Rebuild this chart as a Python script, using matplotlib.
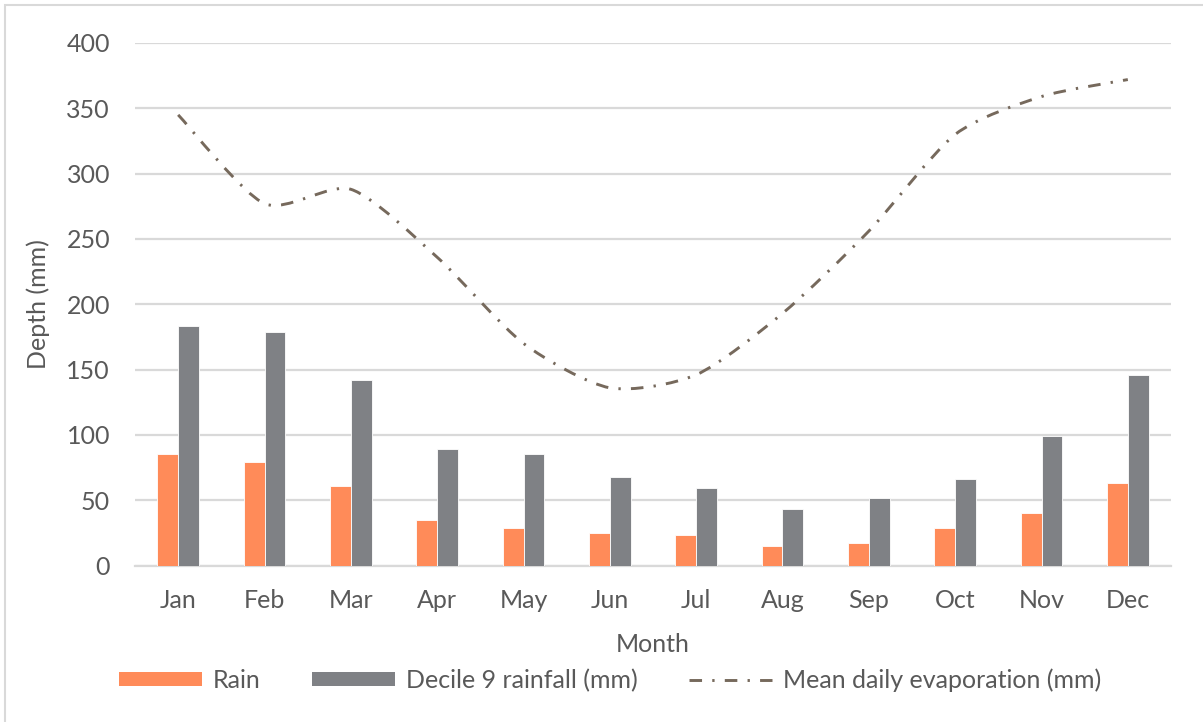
import numpy as np
import matplotlib
matplotlib.use("Agg")
import matplotlib.pyplot as plt
from matplotlib.path import Path
from matplotlib.patches import PathPatch, Rectangle
from matplotlib.lines import Line2D

months = ["Jan", "Feb", "Mar", "Apr", "May", "Jun",
          "Jul", "Aug", "Sep", "Oct", "Nov", "Dec"]
rain = [85, 79, 61, 35, 29, 25, 23, 15, 17, 29, 40, 63]
decile9 = [183, 179, 142, 89, 85, 68, 59, 43, 52, 66, 99, 146]
evaporation = [345, 277, 288, 236, 170, 136, 146, 193, 256, 330, 359, 372]

TEXT = "#595959"
ORANGE = "#FF8B59"
GREY = "#7F8185"
LINE = "#76695C"
GRID = "#D9D9D9"
FS = 18

plt.rcParams["font.family"] = ["Lato", "DejaVu Sans"]

W, H = 1203, 722
fig = plt.figure(figsize=(W / 100, H / 100), dpi=100)
ax = fig.add_axes([135 / W, 1 - 565.5 / H, (1171 - 135) / W, (565.5 - 43) / H])

x = np.arange(len(months))
bw = 0.24
ax.bar(x - bw / 2, rain, bw, color=ORANGE, edgecolor="white", linewidth=0.6,
       label="Rain", zorder=3)
ax.bar(x + bw / 2, decile9, bw, color=GREY, edgecolor="white", linewidth=0.6,
       label="Decile 9 rainfall (mm)", zorder=3)

# smoothed evaporation curve: cubic Bezier segments through each monthly value
pts = np.column_stack([x, evaporation]).astype(float)
verts = [tuple(pts[0])]
codes = [Path.MOVETO]
n = len(pts)
k = 1 / 8.0
for i in range(n - 1):
    p0 = pts[max(i - 1, 0)]
    p1 = pts[i]
    p2 = pts[i + 1]
    p3 = pts[min(i + 2, n - 1)]
    c1 = p1 + (p2 - p0) * k
    c2 = p2 - (p3 - p1) * k
    verts += [tuple(c1), tuple(c2), tuple(p2)]
    codes += [Path.CURVE4] * 3
LW = 2.1
dash = (0, (4.3, 3.5, 0.8, 3.5))
curve = PathPatch(Path(verts, codes), facecolor="none", edgecolor=LINE,
                  linewidth=LW, linestyle=dash, capstyle="butt", zorder=4)
ax.add_patch(curve)

ax.set_xlim(-0.5, len(months) - 0.5)
ax.set_ylim(0, 400)
ax.set_yticks(np.arange(0, 401, 50))
ax.set_xticks(x)
ax.set_xticklabels(months)
ax.yaxis.grid(True, color=GRID, linewidth=1.6, zorder=0)
ax.set_axisbelow(True)
for s in ["top", "right", "left"]:
    ax.spines[s].set_visible(False)
ax.spines["bottom"].set_color(GRID)
ax.spines["bottom"].set_linewidth(1.6)
ax.spines["bottom"].set_zorder(2)
ax.tick_params(axis="both", length=0, labelsize=FS, labelcolor=TEXT)
ax.tick_params(axis="y", pad=18)
ax.tick_params(axis="x", pad=17)
ax.set_xlabel("Month", fontsize=FS, color=TEXT, labelpad=15)
ax.set_ylabel("Depth (mm)", fontsize=FS, color=TEXT, labelpad=12)

handles = [
    Rectangle((0, 0), 1, 1, facecolor=ORANGE, edgecolor="none"),
    Rectangle((0, 0), 1, 1, facecolor=GREY, edgecolor="none"),
    Line2D([], [], color=LINE, linewidth=LW, linestyle=dash),
]
labels = ["Rain", "Decile 9 rainfall (mm)", "Mean daily evaporation (mm)"]
fig.legend(handles, labels, loc="center", bbox_to_anchor=(610 / W, 1 - 680 / H),
           ncol=3, frameon=False, fontsize=FS, labelcolor=TEXT,
           handlelength=3.32, handleheight=0.52, handletextpad=0.44,
           columnspacing=2.04)

# chart area border
fig.patches.append(Rectangle((5 / W, -0.05), 1.2, 1 - 5 / H + 0.05,
                             transform=fig.transFigure, fill=False,
                             edgecolor=GRID, linewidth=1.5))

fig.savefig("out.png", dpi=100, facecolor="white")
